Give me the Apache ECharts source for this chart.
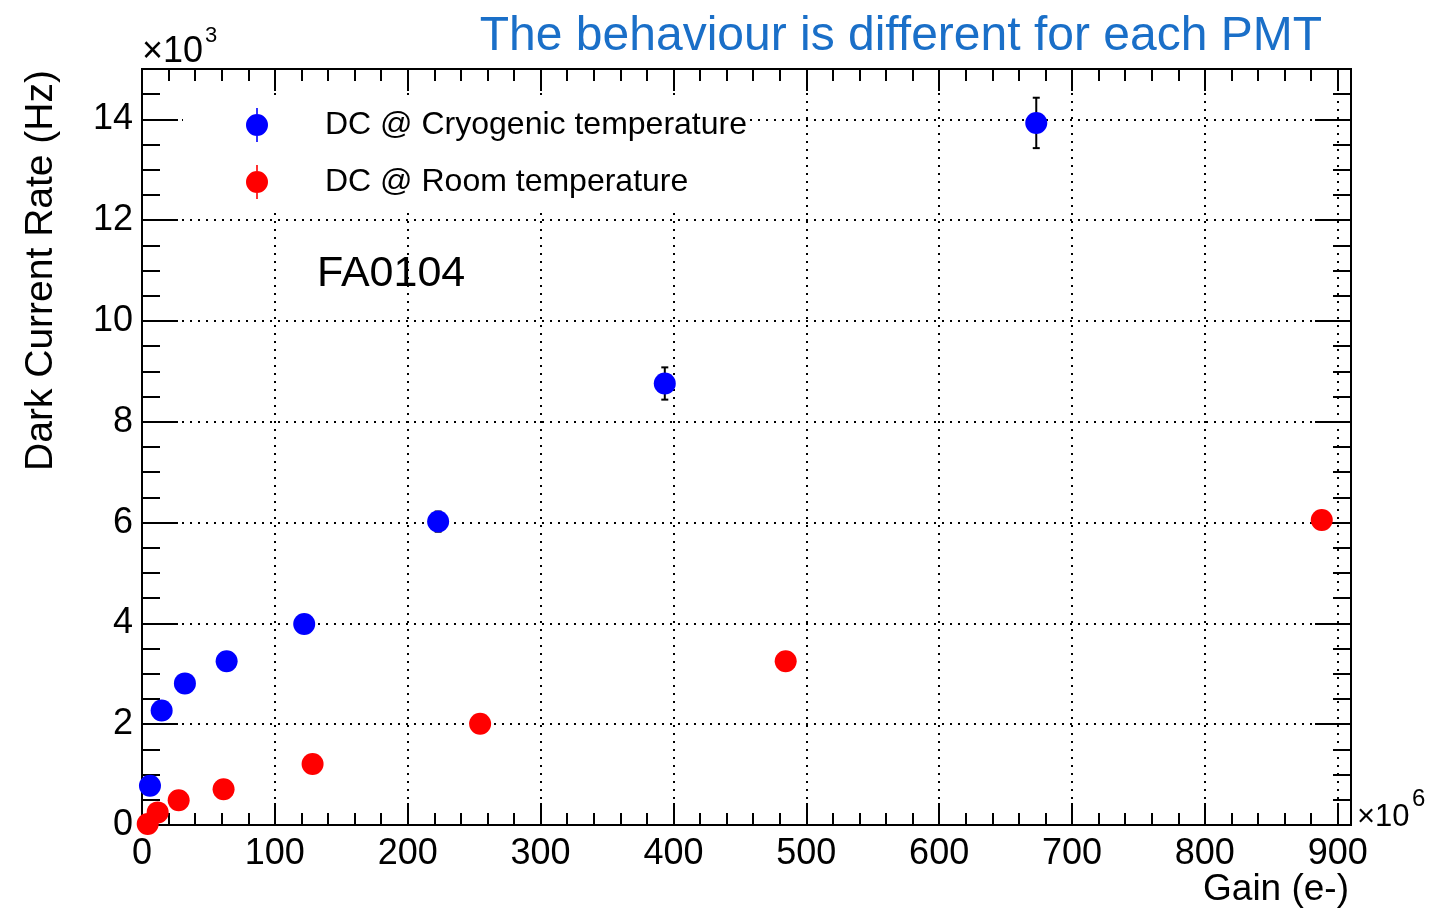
<!DOCTYPE html>
<html>
<head>
<meta charset="utf-8">
<title>Dark current rate vs gain</title>
<script src="https://cdn.jsdelivr.net/npm/echarts@6/dist/echarts.min.js"></script>
<style>
  html, body { margin: 0; padding: 0; background: #fff; }
  #chart { width: 1437px; height: 911px; }
</style>
</head>
<body>
<div id="chart"></div>
<script>
// Gain in units of 10^6 electrons, dark-current rate in units of 10^3 Hz
const gainCryo = [6.0, 14.8, 32.3, 63.7, 122.1, 222.9, 393.5, 673.1];
const rateCryo = [0.78, 2.27, 2.81, 3.25, 3.99, 6.02, 8.76, 13.93];
const errCryo  = [0.04, 0.10, 0.12, 0.14, 0.17, 0.20, 0.32, 0.50];

const gainRoom = [4.3, 11.8, 27.6, 61.4, 128.4, 254.5, 484.5, 888.0];
const rateRoom = [0.02, 0.25, 0.49, 0.71, 1.21, 2.01, 3.25, 6.05];
const errRoom  = [0.01, 0.02, 0.03, 0.04, 0.06, 0.08, 0.12, 0.18];

const seriesNames = ['DC @ Cryogenic temperature', 'DC @ Room temperature'];
const seriesColors = ['#0000ff', '#ff0000'];
const pmtLabel = 'FA0104';
const headline = 'The behaviour is different for each PMT';
const xTitle = 'Gain (e-)';
const yTitle = 'Dark Current Rate (Hz)';

const xMin = 0, xMax = 910, xMajor = 100, xMinor = 20;
const yMin = 0, yMax = 15, yMajor = 2, yMinor = 0.5;

const FONT = '"Liberation Sans", Arial, Helvetica, sans-serif';
const BLACK = '#000';

function zip(xs, ys, es) {
  return xs.map((x, i) => es ? [x, ys[i], es[i]] : [x, ys[i]]);
}

const dottedGrid = {
  show: true,
  lineStyle: { color: BLACK, width: 2, type: [2, 6] }
};

function xAxisDef(position, interval, tickLen, withLabels) {
  return {
    type: 'value', position, min: xMin, max: xMax, interval,
    axisLine: { show: true, onZero: false, lineStyle: { color: BLACK, width: 2 } },
    axisTick: { show: true, inside: true, length: tickLen, lineStyle: { color: BLACK, width: 2 } },
    minorTick: { show: false },
    axisLabel: withLabels ? {
      show: true, color: BLACK, fontFamily: FONT, fontSize: 36, margin: 11,
      formatter: v => (v % xMajor === 0 ? String(v) : '')
    } : { show: false },
    splitLine: withLabels ? dottedGrid : { show: false }
  };
}

function yAxisDef(position, interval, tickLen, withLabels) {
  return {
    type: 'value', position, min: yMin, max: yMax, interval,
    axisLine: { show: true, onZero: false, lineStyle: { color: BLACK, width: 2 } },
    axisTick: { show: true, inside: true, length: tickLen, lineStyle: { color: BLACK, width: 2 } },
    minorTick: { show: false },
    axisLabel: withLabels ? {
      show: true, color: BLACK, fontFamily: FONT, fontSize: 36, margin: 9,
      formatter: v => (v % yMajor === 0 ? String(v) : '')
    } : { show: false },
    splitLine: withLabels ? dottedGrid : { show: false }
  };
}

// vertical error bar with small caps, drawn through the axis scale
function errorBar(params, api) {
  const x = api.value(0), y = api.value(1), e = api.value(2);
  const hi = api.coord([x, y + e]);
  const lo = api.coord([x, y - e]);
  const cap = 3.5;
  const st = { stroke: BLACK, lineWidth: 2 };
  return {
    type: 'group',
    children: [
      { type: 'line', shape: { x1: hi[0], y1: hi[1], x2: lo[0], y2: lo[1] }, style: st },
      { type: 'line', shape: { x1: hi[0] - cap, y1: hi[1], x2: hi[0] + cap, y2: hi[1] }, style: st },
      { type: 'line', shape: { x1: lo[0] - cap, y1: lo[1], x2: lo[0] + cap, y2: lo[1] }, style: st }
    ]
  };
}

// legend marker: filled circle with a short vertical error stub above and below
const legendIcon = 'path://M10.2,0h1.6v6h-1.6z M10.2,28h1.6v6h-1.6z M0,17a11,11 0 1,0 22,0a11,11 0 1,0 -22,0z';

const chart = echarts.init(document.getElementById('chart'), null, { renderer: 'canvas' });

chart.setOption({
  animation: false,
  backgroundColor: '#fff',
  grid: { left: 142, top: 69, right: 86, bottom: 86, containLabel: false, outerBoundsMode: 'none' },
  xAxis: [
    xAxisDef('bottom', xMinor, 12, false),
    xAxisDef('bottom', xMajor, 22, true),
    xAxisDef('top', xMinor, 12, false),
    xAxisDef('top', xMajor, 22, false)
  ],
  yAxis: [
    yAxisDef('left', yMinor, 18, false),
    yAxisDef('left', yMajor, 36, true),
    yAxisDef('right', yMinor, 18, false),
    yAxisDef('right', yMajor, 36, false)
  ],
  legend: {
    orient: 'vertical',
    left: 183, top: 97,
    padding: [11, 2, 13, 63],
    itemGap: 23, itemWidth: 22, itemHeight: 34,
    backgroundColor: '#fff',
    selectedMode: false,
    textStyle: { color: BLACK, fontFamily: FONT, fontSize: 32, padding: [0, 0, 0, 52] },
    data: seriesNames.map(n => ({ name: n, icon: legendIcon }))
  },
  series: [
    {
      name: 'err-cryo', type: 'custom', xAxisIndex: 1, yAxisIndex: 1, z: 3,
      renderItem: errorBar, clip: false, silent: true,
      data: zip(gainCryo, rateCryo, errCryo)
    },
    {
      name: 'err-room', type: 'custom', xAxisIndex: 1, yAxisIndex: 1, z: 3,
      renderItem: errorBar, clip: false, silent: true,
      data: zip(gainRoom, rateRoom, errRoom)
    },
    {
      name: seriesNames[0], type: 'scatter', xAxisIndex: 1, yAxisIndex: 1, z: 5,
      symbol: 'circle', symbolSize: 22, clip: false,
      itemStyle: { color: seriesColors[0], opacity: 1 },
      data: zip(gainCryo, rateCryo)
    },
    {
      name: seriesNames[1], type: 'scatter', xAxisIndex: 1, yAxisIndex: 1, z: 5,
      symbol: 'circle', symbolSize: 22, clip: false,
      itemStyle: { color: seriesColors[1], opacity: 1 },
      data: zip(gainRoom, rateRoom)
    }
  ],
  graphic: [
    { type: 'text', x: 1322, y: 37, z: 10,
      style: { text: headline, fill: '#1a6fc8', font: '48px ' + FONT, textAlign: 'right', textVerticalAlign: 'middle' } },
    { type: 'text', x: 317, y: 274, z: 10,
      style: { text: pmtLabel, fill: BLACK, font: '43px ' + FONT, textAlign: 'left', textVerticalAlign: 'middle' } },
    { type: 'text', x: 61, y: 70, rotation: Math.PI / 2, z: 10,
      style: { text: yTitle, fill: BLACK, font: '39px ' + FONT, textAlign: 'right', textVerticalAlign: 'bottom' } },
    { type: 'text', x: 1349, y: 890, z: 10,
      style: { text: xTitle, fill: BLACK, font: '37px ' + FONT, textAlign: 'right', textVerticalAlign: 'middle' } },
    { type: 'text', x: 142, y: 52, z: 10,
      style: { text: '×10', fill: BLACK, font: '36px ' + FONT, textAlign: 'left', textVerticalAlign: 'middle' } },
    { type: 'text', x: 205, y: 36, z: 10,
      style: { text: '3', fill: BLACK, font: '22px ' + FONT, textAlign: 'left', textVerticalAlign: 'middle' } },
    { type: 'text', x: 1357, y: 817, z: 10,
      style: { text: '×10', fill: BLACK, font: '31px ' + FONT, textAlign: 'left', textVerticalAlign: 'middle' } },
    { type: 'text', x: 1412, y: 799, z: 10,
      style: { text: '6', fill: BLACK, font: '24px ' + FONT, textAlign: 'left', textVerticalAlign: 'middle' } }
  ]
});
</script>
</body>
</html>
